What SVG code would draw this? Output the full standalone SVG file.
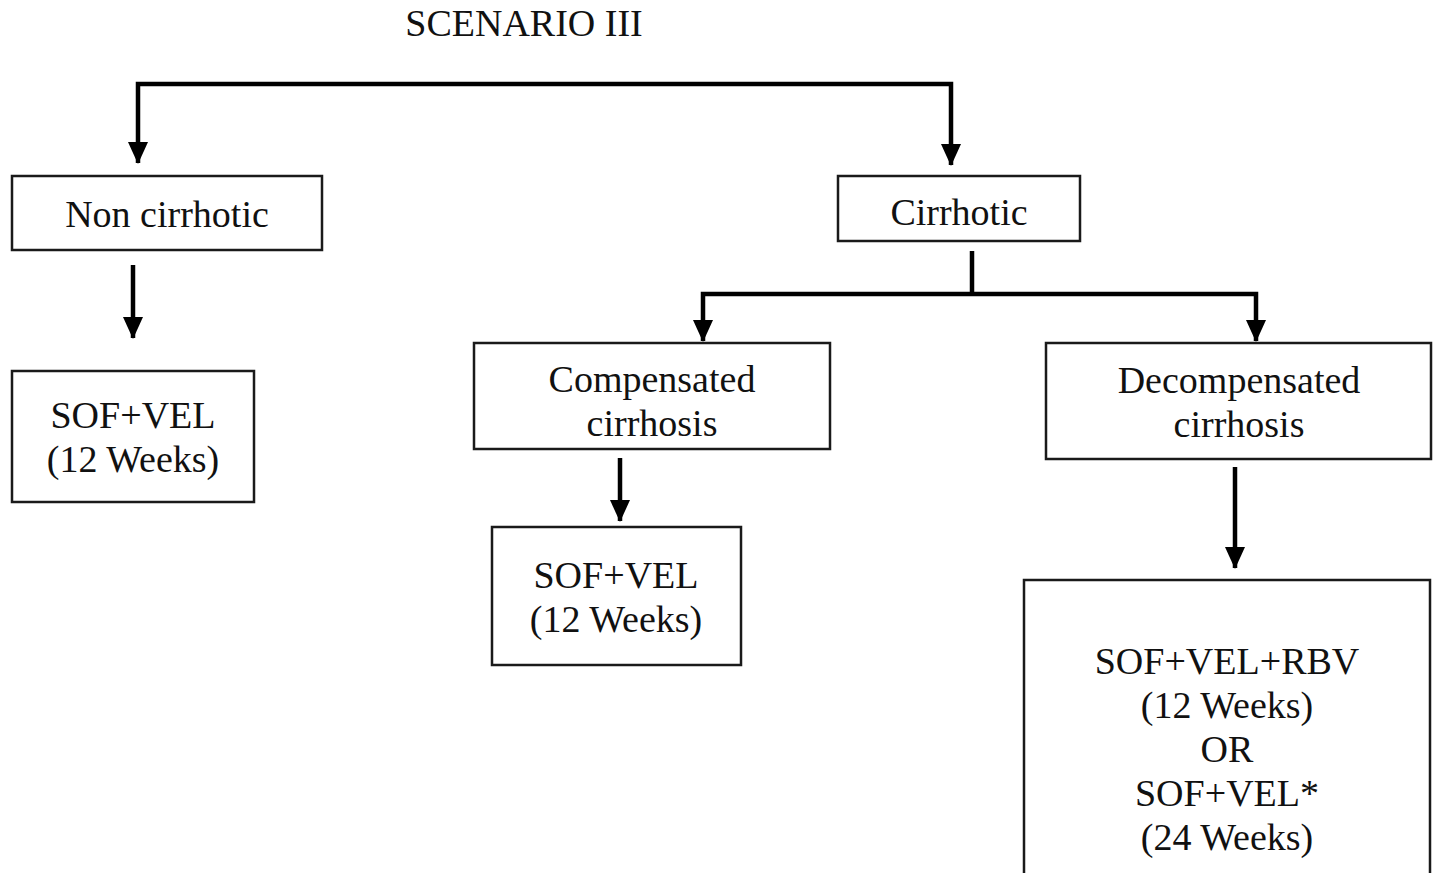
<svg xmlns="http://www.w3.org/2000/svg" width="1434" height="873" viewBox="0 0 1434 873">
<style>
text{font-size:38px;fill:#111;text-anchor:middle}
.box{fill:#fff;stroke:#1a1a1a;stroke-width:2.5}
.ln{fill:none;stroke:#000;stroke-width:4.5}
</style>
<defs>
<marker id="ah" markerUnits="userSpaceOnUse" markerWidth="22" markerHeight="20" viewBox="0 0 22 20" refX="21" refY="10" orient="auto-start-reverse">
<path d="M0,0 L22,10 L0,20 Z" fill="#000"/>
</marker>
</defs>
<rect width="1434" height="873" fill="#fff"/>
<g font-family="Liberation Serif, Times New Roman, Tinos, DejaVu Serif, serif">
<text x="524" y="36">SCENARIO III</text>
<g id="connectors">
<path class="ln" d="M138,163 V84 H951 V165" marker-end="url(#ah)" marker-start="url(#ah)"/>
<path class="ln" d="M133,265 V338" marker-end="url(#ah)"/>
<path class="ln" d="M972,251 V294"/>
<path class="ln" d="M703,341 V294 H1256 V341" marker-end="url(#ah)" marker-start="url(#ah)"/>
<path class="ln" d="M620,458 V521" marker-end="url(#ah)"/>
<path class="ln" d="M1235,467 V568" marker-end="url(#ah)"/>
</g>
<g id="non-cirrhotic"><rect class="box" x="12" y="176" width="310" height="74"/><text x="167" y="227">Non cirrhotic</text></g>
<g id="sofvel-1"><rect class="box" x="12" y="371" width="242" height="131"/><text x="133" y="428">SOF+VEL</text><text x="133" y="472">(12 Weeks)</text></g>
<g id="cirrhotic"><rect class="box" x="838" y="176" width="242" height="65"/><text x="959" y="225">Cirrhotic</text></g>
<g id="compensated"><rect class="box" x="474" y="343" width="356" height="106"/><text x="652" y="392">Compensated</text><text x="652" y="436">cirrhosis</text></g>
<g id="decompensated"><rect class="box" x="1046" y="343" width="385" height="116"/><text x="1239" y="393">Decompensated</text><text x="1239" y="437">cirrhosis</text></g>
<g id="sofvel-2"><rect class="box" x="492" y="527" width="249" height="138"/><text x="616" y="588">SOF+VEL</text><text x="616" y="632">(12 Weeks)</text></g>
<g id="sofvel-rbv"><rect class="box" x="1024" y="580" width="406" height="310"/><text x="1227" y="674">SOF+VEL+RBV</text><text x="1227" y="718">(12 Weeks)</text><text x="1227" y="762">OR</text><text x="1227" y="806">SOF+VEL*</text><text x="1227" y="850">(24 Weeks)</text></g>
</g>
</svg>
